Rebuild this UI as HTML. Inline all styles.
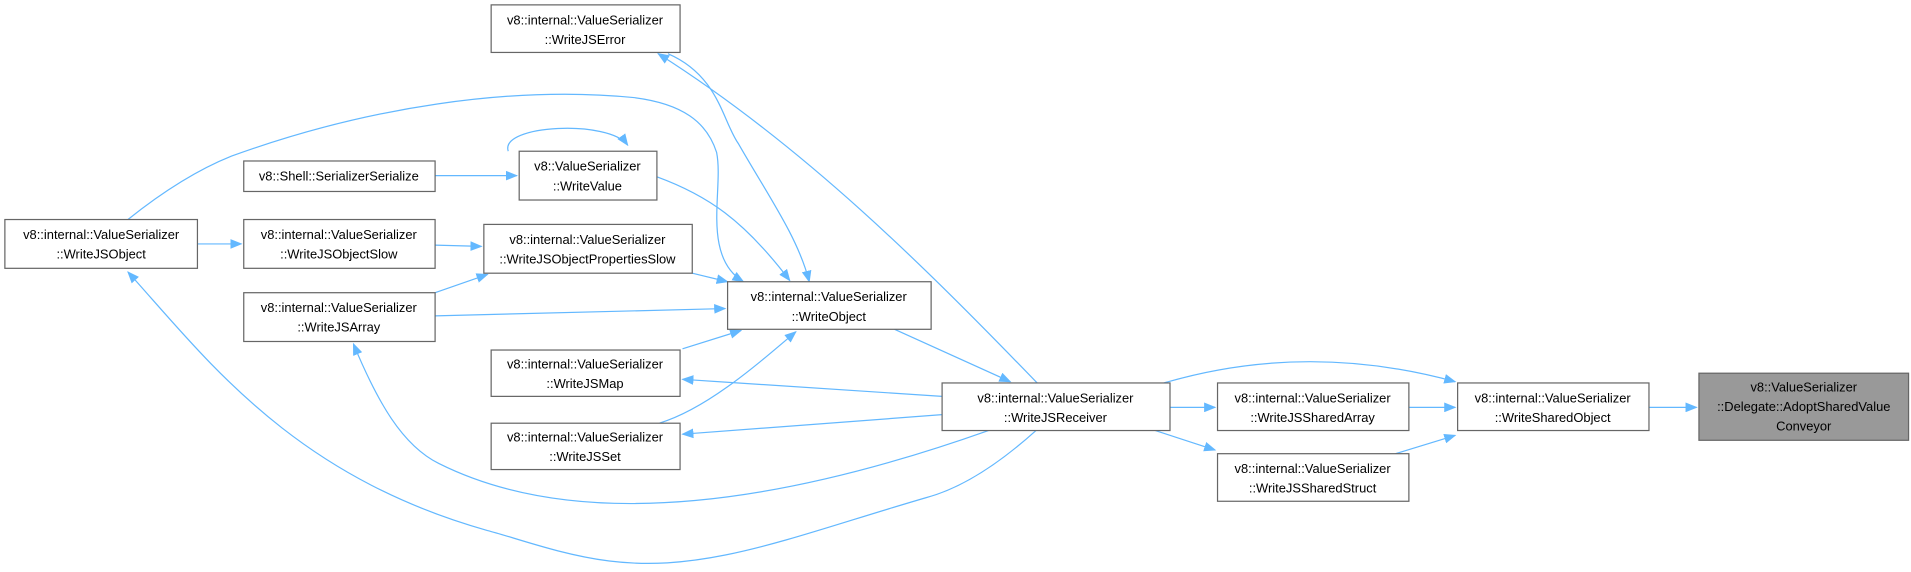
<!DOCTYPE html>
<html><head><meta charset="utf-8"><style>
html,body{margin:0;padding:0;background:#fff;}
svg{display:block;}
text{font-family:"Liberation Sans","DejaVu Sans",sans-serif;font-size:10.6px;fill:#000;text-anchor:middle;}
.n{fill:#fff;stroke:#666;stroke-width:1;}
.e{fill:none;stroke:#63b8ff;stroke-width:1;}
</style></head><body>
<svg width="1911" height="572" viewBox="0 0 1568 469" preserveAspectRatio="none">
<defs><marker id="a" markerWidth="10" markerHeight="8" refX="9" refY="4" orient="auto" markerUnits="userSpaceOnUse"><path d="M0,0 L10,4 L0,8 Z" fill="#63b8ff"/></marker></defs>
<g class="e">
<path d="M1353,334 L1392,334" marker-end="url(#a)"/>
<path d="M1156,334 L1194,334" marker-end="url(#a)"/>
<path d="M1145,372 L1194,357" marker-end="url(#a)"/>
<path d="M955,314 C1030,292 1110,290 1194,313" marker-end="url(#a)"/>
<path d="M960,334 L997,334" marker-end="url(#a)"/>
<path d="M948,353 L997,369" marker-end="url(#a)"/>
<path d="M734,270 L829,313" marker-end="url(#a)"/>
<path d="M851,314 C760,220 660,120 540,44" marker-end="url(#a)"/>
<path d="M773,325 L560,311" marker-end="url(#a)"/>
<path d="M773,340 L560,356" marker-end="url(#a)"/>
<path d="M811,353 C650,410 480,440 360,380 C330,365 310,330 290,282" marker-end="url(#a)"/>
<path d="M850,353 C820,380 790,400 760,408 C650,440 580,470 500,460 C460,455 420,440 400,435 C240,390 170,295 105,223" marker-end="url(#a)"/>
<path d="M560,286 L608,271" marker-end="url(#a)"/>
<path d="M541,347 C580,335 620,300 653,272" marker-end="url(#a)"/>
<path d="M357,259 L595,253" marker-end="url(#a)"/>
<path d="M568,224 L597,231" marker-end="url(#a)"/>
<path d="M539,145 C580,160 610,180 648,230" marker-end="url(#a)"/>
<path d="M548,44 C590,62 593,100 606,118 C630,160 655,195 664,231" marker-end="url(#a)"/>
<path d="M105,180 C130,160 160,140 190,128 C300,88 420,70 520,80 C560,85 580,100 588,125 C592,145 585,175 590,200 C593,215 600,225 610,231" marker-end="url(#a)"/>
<path d="M357,201 L395,202" marker-end="url(#a)"/>
<path d="M357,240 L400,225" marker-end="url(#a)"/>
<path d="M162,200 L198,200" marker-end="url(#a)"/>
<path d="M357,144 L424,144" marker-end="url(#a)"/>
<path d="M417,124 C410,102 500,98 515,119" marker-end="url(#a)"/>
</g>
<g>
<rect class="n" x="403" y="4" width="155" height="39"/><text x="480" y="20">v8::internal::ValueSerializer</text><text x="480" y="36">::WriteJSError</text>
<rect class="n" x="200" y="132" width="157" height="25"/><text x="278" y="148">v8::Shell::SerializerSerialize</text>
<rect class="n" x="426" y="124" width="113" height="40"/><text x="482" y="140">v8::ValueSerializer</text><text x="482" y="156">::WriteValue</text>
<rect class="n" x="4" y="180" width="158" height="40"/><text x="83" y="196">v8::internal::ValueSerializer</text><text x="83" y="212">::WriteJSObject</text>
<rect class="n" x="200" y="180" width="157" height="40"/><text x="278" y="196">v8::internal::ValueSerializer</text><text x="278" y="212">::WriteJSObjectSlow</text>
<rect class="n" x="397" y="184" width="171" height="40"/><text x="482" y="200">v8::internal::ValueSerializer</text><text x="482" y="216">::WriteJSObjectPropertiesSlow</text>
<rect class="n" x="200" y="240" width="157" height="40"/><text x="278" y="256">v8::internal::ValueSerializer</text><text x="278" y="272">::WriteJSArray</text>
<rect class="n" x="597" y="231" width="167" height="39"/><text x="680" y="247">v8::internal::ValueSerializer</text><text x="680" y="263">::WriteObject</text>
<rect class="n" x="403" y="287" width="155" height="38"/><text x="480" y="302">v8::internal::ValueSerializer</text><text x="480" y="318">::WriteJSMap</text>
<rect class="n" x="403" y="347" width="155" height="38"/><text x="480" y="362">v8::internal::ValueSerializer</text><text x="480" y="378">::WriteJSSet</text>
<rect class="n" x="773" y="314" width="187" height="39"/><text x="866" y="330">v8::internal::ValueSerializer</text><text x="866" y="346">::WriteJSReceiver</text>
<rect class="n" x="999" y="314" width="157" height="39"/><text x="1077" y="330">v8::internal::ValueSerializer</text><text x="1077" y="346">::WriteJSSharedArray</text>
<rect class="n" x="999" y="372" width="157" height="39"/><text x="1077" y="388">v8::internal::ValueSerializer</text><text x="1077" y="404">::WriteJSSharedStruct</text>
<rect class="n" x="1196" y="314" width="157" height="39"/><text x="1274" y="330">v8::internal::ValueSerializer</text><text x="1274" y="346">::WriteSharedObject</text>
<rect x="1394" y="306" width="172" height="55" fill="#999" stroke="#666"/><text x="1480" y="321">v8::ValueSerializer</text><text x="1480" y="337">::Delegate::AdoptSharedValue</text><text x="1480" y="353">Conveyor</text>
</g>
</svg>
</body></html>
